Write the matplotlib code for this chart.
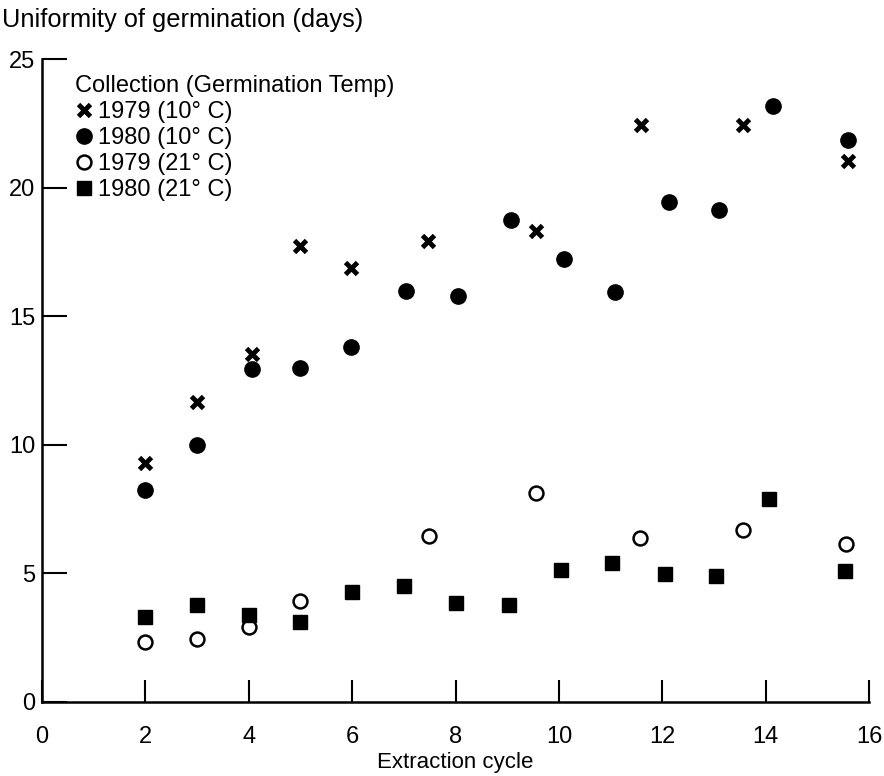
import matplotlib.pyplot as plt

plt.rcParams["font.family"] = ["Liberation Sans", "DejaVu Sans"]

# 1979 collection, germinated at 10 C
x_79_10 = [2, 3, 4.06, 5, 5.97, 7.46, 9.55, 11.59, 13.57, 15.6]
y_79_10 = [9.30, 11.65, 13.53, 17.72, 16.88, 17.94, 18.30, 22.42, 22.42, 21.02]

# 1980 collection, germinated at 10 C
x_80_10 = [2, 3, 4.06, 5, 5.98, 7.05, 8.04, 9.07, 10.1, 11.09, 12.13, 13.1, 14.14, 15.6]
y_80_10 = [8.25, 10.0, 12.95, 12.98, 13.80, 15.99, 15.80, 18.75, 17.24, 15.94, 19.43, 19.14, 23.16, 21.87]

# 1979 collection, germinated at 21 C
x_79_21 = [2, 3, 4, 5, 7.49, 9.55, 11.56, 13.56, 15.55]
y_79_21 = [2.35, 2.44, 2.91, 3.93, 6.46, 8.14, 6.39, 6.69, 6.14]

# 1980 collection, germinated at 21 C
x_80_21 = [2, 3, 4, 5, 6, 7, 8, 9.04, 10.05, 11.02, 12.05, 13.04, 14.06, 15.54]
y_80_21 = [3.30, 3.77, 3.39, 3.12, 4.27, 4.51, 3.86, 3.77, 5.14, 5.40, 4.97, 4.88, 7.89, 5.10]

fig = plt.figure(figsize=(8.84, 7.76), dpi=100)
ax = fig.add_axes([42 / 884, 1 - 702 / 776, 827 / 884, 643 / 776])

ax.plot(x_79_10, y_79_10, linestyle="none", marker="x", ms=9, mew=3.5, color="black",
        label="1979 (10° C)")
ax.plot(x_80_10, y_80_10, linestyle="none", marker="o", ms=11, color="black",
        label="1980 (10° C)")
ax.plot(x_79_21, y_79_21, linestyle="none", marker="o", ms=10, mew=1.8, mfc="white",
        mec="black", label="1979 (21° C)")
ax.plot(x_80_21, y_80_21, linestyle="none", marker="s", ms=9.5, color="black",
        label="1980 (21° C)")

ax.set_xlim(0, 16)
ax.set_ylim(0, 25)
ax.set_xticks(range(0, 17, 2))
ax.set_yticks(range(0, 26, 5))

for side in ["top", "right"]:
    ax.spines[side].set_visible(False)
for side in ["left", "bottom"]:
    ax.spines[side].set_linewidth(1.8)

ax.tick_params(axis="x", direction="in", length=16, width=1.5, pad=17, labelsize=17)
ax.tick_params(axis="y", direction="in", length=18, width=1.5, pad=5, labelsize=17)

ax.set_xlabel("Extraction cycle", fontsize=16, labelpad=3)
fig.text(2 / 884, 1 - 20 / 776, "Uniformity of germination (days)", fontsize=18.3,
         ha="left", va="center")

leg = ax.legend(title="Collection (Germination Temp)", loc="upper left",
                bbox_to_anchor=(0.04, 0.975), frameon=False, fontsize=17,
                title_fontsize=17, alignment="left", handlelength=0.75,
                handletextpad=0.2, labelspacing=0.17, borderpad=0, borderaxespad=0,
                markerscale=1.0)

fig.savefig("out.png", dpi=100)
